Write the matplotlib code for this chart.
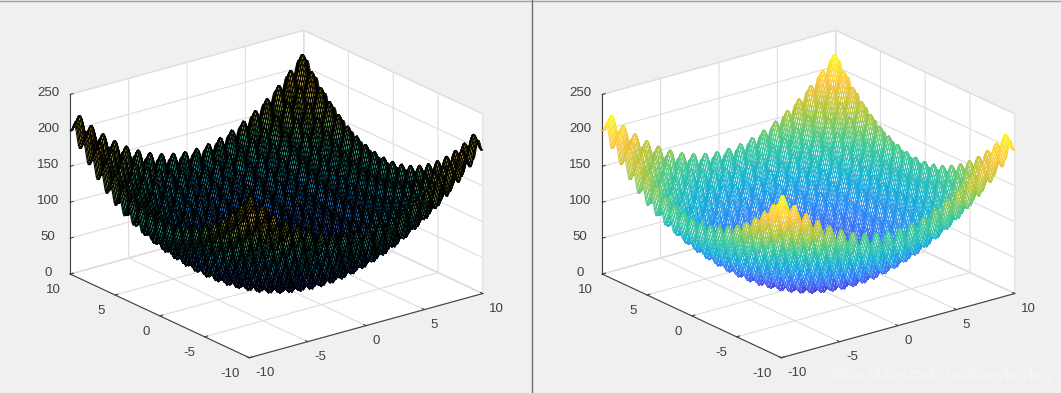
import numpy as np
import matplotlib
matplotlib.use("Agg")
import matplotlib.pyplot as plt
from matplotlib.colors import LinearSegmentedColormap, Normalize
from matplotlib.lines import Line2D

# ripple heights along one side of the surface, x = 0, 0.1, ... 10 (estimated per mesh step)
profile_half = [
    0.0, 1.92, 6.95, 13.18, 18.25, 20.25, 18.45, 13.58, 7.55, 2.72,
    1.0, 3.12, 8.35, 14.78, 20.05, 22.25, 20.65, 15.98, 10.15, 5.52,
    4.0, 6.32, 11.75, 18.38, 23.85, 26.25, 24.85, 20.38, 14.75, 10.32,
    9.0, 11.52, 17.15, 23.98, 29.65, 32.25, 31.05, 26.78, 21.35, 17.12,
    16.0, 18.72, 24.55, 31.58, 37.45, 40.25, 39.25, 35.18, 29.95, 25.92,
    25.0, 27.92, 33.95, 41.18, 47.25, 50.25, 49.45, 45.58, 40.55, 36.72,
    36.0, 39.12, 45.35, 52.78, 59.05, 62.25, 61.65, 57.98, 53.15, 49.52,
    49.0, 52.32, 58.75, 66.38, 72.85, 76.25, 75.85, 72.38, 67.75, 64.32,
    64.0, 67.52, 74.15, 81.98, 88.65, 92.25, 92.05, 88.78, 84.35, 81.12,
    81.0, 84.72, 91.55, 99.58, 106.45, 110.25, 110.25, 107.18, 102.95, 99.92,
    100.0,
]
xy_ticks = [-10, -5, 0, 5, 10]
xy_labels = ["-10", "-5", "0", "5", "10"]
z_ticks = [0, 50, 100, 150, 200, 250]
z_labels = ["0", "50", "100", "150", "200", "250"]

parula_stops = ["#3e26a8", "#4752f4", "#2d87f7", "#12b1d6", "#37c897", "#abc739", "#fec338", "#f9fb15"]
parula = LinearSegmentedColormap.from_list("parula", parula_stops)

W, H = 1061, 393
BG = "#f0f0f0"

half = np.array(profile_half)
side = np.concatenate([half[:0:-1], half])
grid = np.linspace(-10, 10, len(side))
X, Y = np.meshgrid(grid, grid)
Z = side[:, None] + side[None, :]
Zmid = (Z[:-1, :-1] + Z[1:, :-1] + Z[:-1, 1:] + Z[1:, 1:]) / 4
norm = Normalize(Z.min(), Z.max())
face_rgba = parula(norm(Zmid)).reshape(-1, 4)

fig = plt.figure(figsize=(W / 100, H / 100), dpi=100, facecolor=BG)
plt.rcParams["font.family"] = ["Liberation Sans", "DejaVu Sans"]


def make_axes(cx, cy=200, size=445):
    ax = fig.add_axes([(cx - size / 2) / W, (H - cy - size / 2) / H, size / W, size / H],
                      projection="3d", proj_type="ortho")
    ax.patch.set_visible(False)
    ax.view_init(elev=21, azim=-127.5)
    ax.set_box_aspect((1, 1, 0.654))
    ax.set_xlim(-10, 10)
    ax.set_ylim(-10, 10)
    ax.set_zlim(0, 250)
    ax.set_xticks(xy_ticks, xy_labels)
    ax.set_yticks(xy_ticks, xy_labels)
    ax.set_zticks(z_ticks, z_labels)
    for axis in (ax.xaxis, ax.yaxis, ax.zaxis):
        axis.set_pane_color("white")
        axis.pane.set_edgecolor("#e6e6e6")
        axis.line.set_color("#404040")
        axis.line.set_linewidth(0.8)
        axis._axinfo["grid"]["color"] = "#dedede"
        axis._axinfo["grid"]["linewidth"] = 0.8
        axis._axinfo["tick"]["inward_factor"] = 0.0
        axis._axinfo["tick"]["outward_factor"] = 0.15
        axis._axinfo["tick"]["color"] = "#404040"
    ax.tick_params(labelsize=9.5, labelcolor="#404040", color="#404040", width=0.8, pad=-3)
    ax.xaxis.set_tick_params(pad=-2)
    ax.yaxis.set_tick_params(pad=-1)
    ax.zaxis.set_tick_params(pad=1)
    for t in ax.get_xticklabels():
        t.set_ha("left")
    for t in ax.get_yticklabels():
        t.set_ha("right")
    for t in ax.get_zticklabels():
        t.set_va("center")
    return ax


# left: surf, black edges
ax1 = make_axes(270.5)
surf = ax1.plot_surface(X, Y, Z, rstride=1, cstride=1, color="white", shade=False,
                        linewidth=0.68, edgecolor="black", antialiased=True)
surf.set_facecolor(face_rgba)

# right: mesh, coloured edges on white faces
ax2 = make_axes(802.5)
mesh = ax2.plot_surface(X, Y, Z, rstride=1, cstride=1, color="white", shade=False,
                        linewidth=0.62, edgecolor="black", antialiased=True)
mesh.set_facecolor("white")
mesh.set_edgecolor(face_rgba)

fig.add_artist(Line2D([0, 1], [1 - 0.5 / H] * 2, color="#a0a0a0", lw=1))
fig.add_artist(Line2D([531.5 / W] * 2, [0, 1], color="#707070", lw=1))
fig.text(943 / W, 1 - 375 / H, "https://blog.csdn.net/Garyboyboy", color="white", alpha=0.45,
         fontsize=11, ha="center", va="center")

fig.savefig("out.png", dpi=100, facecolor=BG)
